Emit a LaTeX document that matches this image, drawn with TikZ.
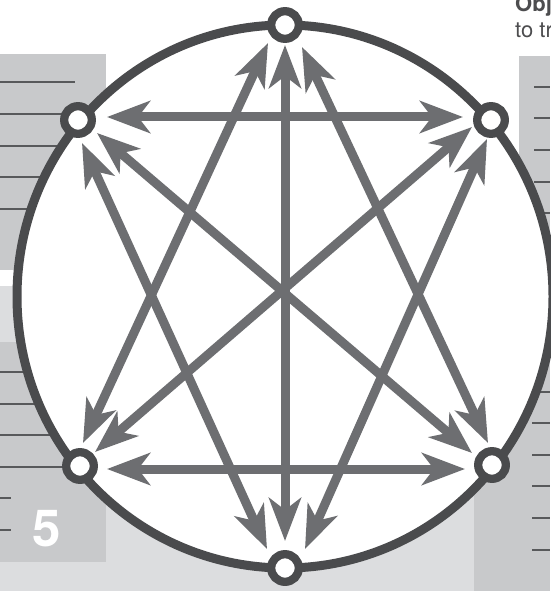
\documentclass[tikz,border=0pt]{standalone}
\usepackage{fontspec}
\setmainfont{TeX Gyre Heros}
\usetikzlibrary{arrows.meta}
\definecolor{ringc}{RGB}{74,75,77}
\definecolor{arrc}{RGB}{109,110,113}
\definecolor{panelc}{RGB}{200,201,203}
\definecolor{lightc}{RGB}{220,221,223}
\definecolor{rulec}{RGB}{88,89,91}
\definecolor{textc}{RGB}{77,77,79}
\begin{document}
\begin{tikzpicture}[x=1pt,y=-1pt,
  ring/.style={circle, draw=ringc, fill=white, line width=8.3pt, inner sep=0pt, minimum size=27.6pt},
  arr/.style={draw=arrc, line width=9pt,
    {Stealth[length=43pt,width=32pt,inset=12pt]}-{Stealth[length=43pt,width=32pt,inset=12pt]}},
  rule/.style={draw=rulec, line width=1.3pt}]
\useasboundingbox (0,0) rectangle (550,591);
\fill[white] (0,0) rectangle (550,591);
% backgrounds
\fill[lightc] (0,286) rectangle (550,591);
\fill[panelc] (0,54) rectangle (106,270);
\fill[panelc] (0,342) rectangle (106,562);
\fill[panelc] (519,56) rectangle (550,591);
\fill[panelc] (474,300) rectangle (550,591);
% rules left
\foreach \y in {82,114,146,177,209,372,404,435,467} {\draw[rule] (0,\y) -- (75,\y);}
\foreach \y in {498,530} {\draw[rule] (0,\y) -- (11,\y);}
% rules right
\foreach \y in {87,118,150,182,213} {\draw[rule] (534,\y) -- (550,\y);}
\foreach \y in {392,423,455,486,518,550} {\draw[rule] (532,\y) -- (550,\y);}
% texts
\node[anchor=base, inner sep=0pt, text=white, font=\bfseries\fontsize{51}{51}\selectfont] (five) at (46.5,546) {5};
\node[anchor=base west, inner sep=0pt, text=textc, font=\bfseries\fontsize{22}{22}\selectfont] (obj) at (515,12) {Obj};
\node[anchor=base west, inner sep=0pt, text=textc, font=\fontsize{22}{22}\selectfont] (totr) at (515,38) {to tr};
% big circle
\draw[draw=ringc, fill=white, line width=9pt] (285,296.5) ellipse [x radius=268pt, y radius=271.5pt];
% arrow end points
\coordinate (tlA) at (107,117);  \coordinate (trA) at (463,117);
\coordinate (blA) at (107,469);  \coordinate (brA) at (465,469);
\coordinate (tV) at (285,45);    \coordinate (bV) at (285,541);
\coordinate (tL) at (268,43);    \coordinate (blT) at (83,443);
\coordinate (tR) at (302,47);    \coordinate (brT) at (488,443);
\coordinate (bL) at (267,549);   \coordinate (tlB) at (82,143);
\coordinate (bR) at (305,549);   \coordinate (trB) at (487,139);
\coordinate (tlD) at (97,133);   \coordinate (brD) at (472,453);
\coordinate (trD) at (472,127);  \coordinate (blD) at (95,452);
% arrows
\draw[arr] (tlA) -- (trA);
\draw[arr] (blA) -- (brA);
\draw[arr] (tV) -- (bV);
\draw[arr] (tL) -- (blT);
\draw[arr] (tR) -- (brT);
\draw[arr] (bL) -- (tlB);
\draw[arr] (bR) -- (trB);
\draw[arr] (tlD) -- (brD);
\draw[arr] (trD) -- (blD);
% ring nodes
\node[ring] (nT) at (285,25) {};
\node[ring] (nB) at (285,568) {};
\node[ring] (nTL) at (78,120) {};
\node[ring] (nTR) at (491,120) {};
\node[ring] (nBL) at (80,466) {};
\node[ring] (nBR) at (492,465) {};
\end{tikzpicture}
\end{document}
